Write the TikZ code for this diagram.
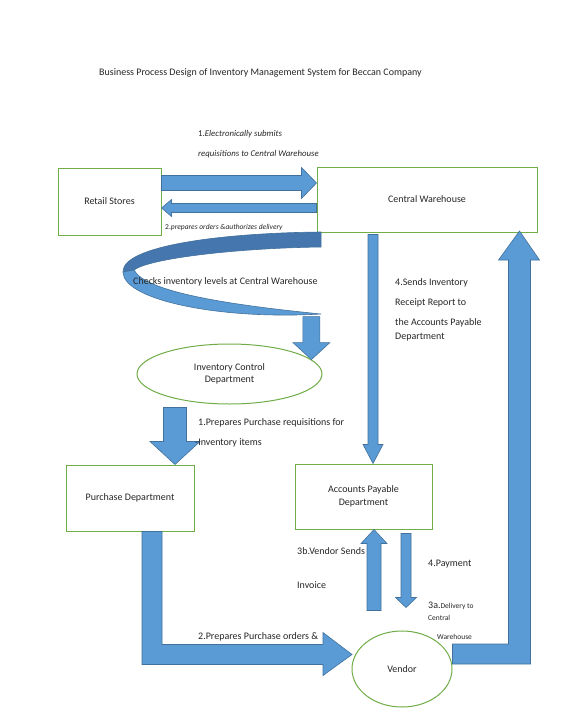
\documentclass[tikz,border=0pt]{standalone}
\usepackage{fontspec}
\setmainfont{Carlito}
\usetikzlibrary{calc,positioning,shapes.geometric}
\definecolor{bcnBlue}{HTML}{5B9BD5}
\definecolor{bcnBlueLine}{HTML}{41719C}
\definecolor{bcnBlueDark}{HTML}{4576AE}
\definecolor{bcnGreen}{HTML}{70AD47}
\definecolor{bcnInk}{HTML}{262626}
\newcommand{\blockarrow}[6]{%
  \begin{scope}[shift={(#1)},rotate=#3]
    \path[flow] let \p1=(#1),\p2=(#2),\n1={veclen(\x2-\x1,\y2-\y1)} in
      (0,-#4/2) -- ({\n1-#6},-#4/2) -- ({\n1-#6},-#5/2) -- (\n1,0) -- ({\n1-#6},#5/2) -- ({\n1-#6},#4/2) -- (0,#4/2) -- cycle;
  \end{scope}}

\begin{document}
\begin{tikzpicture}[x=1pt,y=-1pt,line join=miter]
\useasboundingbox[fill=white] (0,0) rectangle (560,725);
\tikzset{box/.style={draw=bcnGreen,line width=1pt,fill=white,text=bcnInk,font=\fontsize{10}{12.5}\selectfont,align=center},oval/.style={box,ellipse,inner sep=0pt},flow/.style={fill=bcnBlue,draw=bcnBlueLine,line width=0.6pt},lbl/.style={anchor=west,text=bcnInk,font=\fontsize{10}{12}\selectfont,inner sep=0pt},tiny/.style={lbl,font=\fontsize{7.5}{9}\selectfont}}
\node[lbl] (title) at (99,73) {Business Process Design of Inventory Management System for Beccan Company};
\node[box,minimum width=103pt,minimum height=67pt] (retail) at (109.5,201.5) {Retail Stores};
\node[box,minimum width=220pt,minimum height=65pt] (warehouse) at (427,199.5) {Central Warehouse};
\node[oval,minimum width=185pt,minimum height=60pt] (invctrl) at (229.5,374) {Inventory Control\\Department};
\node[box,minimum width=128pt,minimum height=66pt] (purchase) at (130,498) {Purchase Department};
\node[box,minimum width=137pt,minimum height=65pt] (payable) at (363.5,496.5) {Accounts Payable\\Department};
\node[oval,minimum width=100pt,minimum height=76pt] (vendor) at (402,669) {Vendor};
\coordinate (subS) at ($(retail.east)+(0,-18.5)$); \coordinate (subE) at (subS -| warehouse.west); \blockarrow{subS}{subE}{0}{15}{31}{15}
\coordinate (ordS) at ($(warehouse.west)+(0,8.5)$); \coordinate (ordE) at (ordS -| retail.east); \blockarrow{ordS}{ordE}{180}{9}{17}{10}
\node[lbl,font=\fontsize{8.8}{10}\selectfont] (subA) at (198,134) {1.\textit{Electronically submits}};
\node[lbl,font=\fontsize{8.8}{10}\selectfont] (subB) at (198,154) {\textit{requisitions to Central Warehouse}};
\node[tiny] (ordB) at (165,227) {2.\textit{prepares orders \&authorizes delivery}};
\path[flow,fill=bcnBlueDark] (321,232) .. controls (220,233) and (122,246) .. (123,272) -- (134,270) .. controls (150,258) and (240,248) .. (321,247) -- cycle;
\path[flow] (123,272) .. controls (123,300) and (220,320) .. (321,314) .. controls (230,305) and (145,292) .. (134,270) -- cycle;
\node[lbl] (checks) at (133,282) {Checks inventory levels at Central Warehouse};
\coordinate (chkE) at (invctrl.10); \coordinate (chkS) at ($(chkE)+(0,-43)$); \blockarrow{chkS}{chkE}{-90}{17}{37}{17}
\coordinate (reqE) at ($(purchase.north)+(45,0)$); \coordinate (reqS) at ($(reqE)+(0,-57)$); \blockarrow{reqS}{reqE}{-90}{23}{50}{23}
\node[lbl] (reqA) at (198,423) {1.Prepares Purchase requisitions for}; \node[lbl] (reqB) at (195,443) {-Inventory items};
\coordinate (rcpS) at ($(warehouse.south)+(-54,2)$); \coordinate (rcpE) at (rcpS |- payable.north); \blockarrow{rcpS}{rcpE}{-90}{10}{20}{19}
\node[lbl] (rptA) at (395,283) {4.Sends Inventory}; \node[lbl] (rptB) at (395,303) {Receipt Report to};
\node[lbl] (rptC) at (395,323) {the Accounts Payable}; \node[lbl] (rptD) at (395,337) {Department};
\coordinate (invS) at ($(payable.south)+(10.5,81)$); \coordinate (invE) at (payable.south -| invS); \blockarrow{invS}{invE}{90}{14}{26}{14}
\coordinate (payS) at ($(payable.south)+(42.5,4)$); \coordinate (payE) at ($(payS)+(0,74)$); \blockarrow{payS}{payE}{-90}{10}{21}{10}
\node[lbl] (invA) at (297,551) {3b.Vendor Sends}; \node[lbl] (invB) at (297,585) {Invoice};
\node[lbl] (payA) at (428,564) {4.Payment};
\node[lbl] (dlvA) at (428,606) {3a.{\fontsize{7.5}{9}\selectfont Delivery to}}; \node[tiny] (dlvB) at (428,618) {Central}; \node[tiny] (dlvC) at (437,637) {Warehouse};
\path[flow] ($(purchase.south)+(12,0)$) -- ++(0,133) -- ++(181,0) -- ++(0,11) -- ++(29,-21) -- ++(-29,-22) -- ++(0,12) -- ++(-161,0) -- ++(0,-113) -- cycle;
\node[lbl] (ordA) at (198,637) {2.Prepares Purchase orders \&};
\path[flow] ($(vendor.east)+(0,-25)$) -- ++(56,0) -- ++(0,-384) -- ++(-10,0) -- ++(21,-29) -- ++(20,29) -- ++(-9,0) -- ++(0,404) -- ++(-78,0) -- cycle;
\end{tikzpicture}
\end{document}
